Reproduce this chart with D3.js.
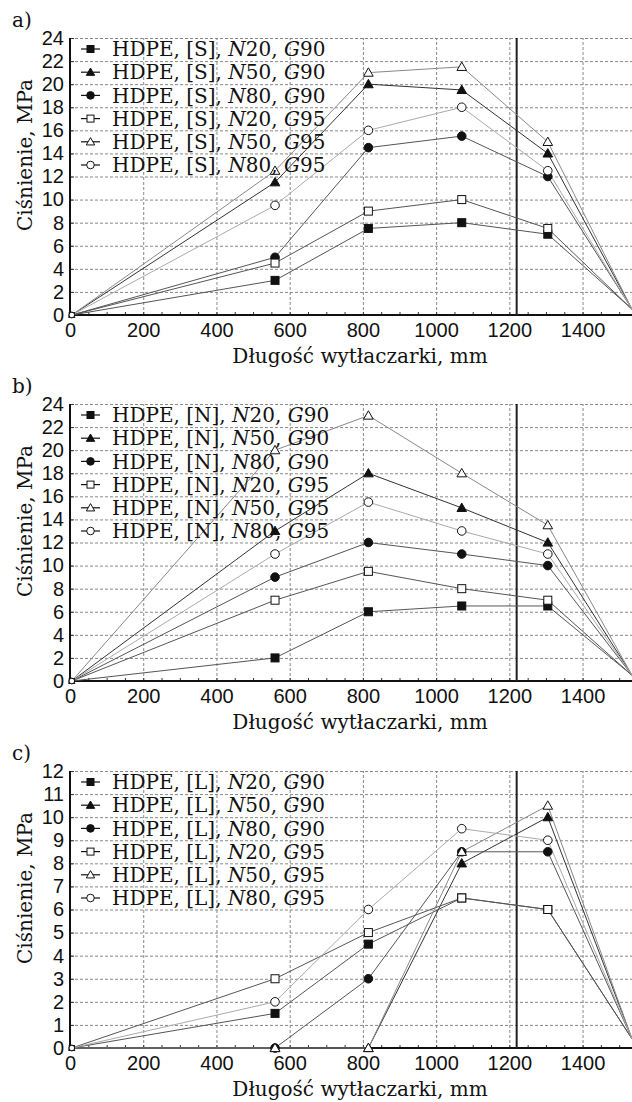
<!DOCTYPE html>
<html>
<head>
<meta charset="utf-8">
<script src="https://cdn.jsdelivr.net/npm/d3@7"></script>
<style>
  body { margin: 0; background: #fff; }
  svg { display: block; font-family: "DejaVu Serif", "Liberation Serif", serif; }
</style>
</head>
<body>
<div id="chart"></div>
<script>
// DATA
// measurement positions along the extruder, mm
const positions = [5, 560, 815, 1070, 1305, 1535];

// series: rotational speed N and G value
const nValues = ["20", "50", "80", "20", "50", "80"];
const gValues = ["90", "90", "90", "95", "95", "95"];

// pressure, MPa (one row per series, same order as above)
const pressureS = [
    [0, 3, 7.5, 8, 7, 0.5],
    [0, 11.5, 20, 19.5, 14, 0.5],
    [0, 5, 14.5, 15.5, 12, 0.5],
    [0, 4.5, 9, 10, 7.5, 0.5],
    [0, 12.5, 21, 21.5, 15, 0.5],
    [0, 9.5, 16, 18, 12.5, 0.5]
];
const pressureN = [
    [0, 2, 6, 6.5, 6.5, 0.5],
    [0, 13, 18, 15, 12, 0.5],
    [0, 9, 12, 11, 10, 0.5],
    [0, 7, 9.5, 8, 7, 0.5],
    [0, 20, 23, 18, 13.5, 0.5],
    [0, 11, 15.5, 13, 11, 0.5]
];
const pressureL = [
    [0, 1.5, 4.5, 6.5, 6, 0.4],
    [0, 0, 0, 8, 10, 0.4],
    [0, 0, 3, 8.5, 8.5, 0.4],
    [0, 3, 5, 6.5, 6, 0.4],
    [0, 0, 0, 8.5, 10.5, 0.4],
    [0, 2, 6, 9.5, 9, 0.4]
];

const xTicks = [0, 200, 400, 600, 800, 1000, 1200, 1400];
const yTicks24 = d3.range(0, 25, 2);
const yTicks12 = d3.range(0, 13, 1);
const markerLine = 1220;

const panels = [
    {label: "a)", die: "S", values: pressureS, yMax: 24, ticks: yTicks24},
    {label: "b)", die: "N", values: pressureN, yMax: 24, ticks: yTicks24},
    {label: "c)", die: "L", values: pressureL, yMax: 12, ticks: yTicks12}
];

// STYLE
const width = 632;
const height = 1102;
const left = 70;
const plotH = 277;
const tops = [38, 404, 771];
const fontSize = 20;

const shapes = ["square", "triangle", "circle", "square", "triangle", "circle"];
const filled = [true, true, true, false, false, false];
const lineColors = ["#555", "#333", "#555", "#555", "#888", "#aaa"];

const svg = d3.select("#chart")
    .append("svg")
        .attr("width", width)
        .attr("height", height)
        .attr("font-size", fontSize);

const x = d3.scaleLinear()
    .domain([0, 1535])
    .range([left, width]);

// draw one marker shape centred on cx, cy
function drawMarker(g, shape, isFilled, cx, cy, s) {
    const fill = isFilled ? "#111" : "#fff";
    let m;
    if (shape == "square") {
        m = g.append("rect")
            .attr("x", cx - s / 2).attr("y", cy - s / 2)
            .attr("width", s).attr("height", s);
    } else if (shape == "circle") {
        m = g.append("circle")
            .attr("cx", cx).attr("cy", cy).attr("r", s / 2 + 0.3);
    } else {
        m = g.append("path")
            .attr("d", `M${cx},${cy - s * 0.6}L${cx + s * 0.6},${cy + s * 0.45}L${cx - s * 0.6},${cy + s * 0.45}Z`);
    }
    m.attr("fill", fill).attr("stroke", "#111").attr("stroke-width", 1);
}

panels.forEach((p, pi) => {
    const top = tops[pi];
    const bottom = top + plotH;
    const g = svg.append("g");

    const y = d3.scaleLinear()
        .domain([0, p.yMax])
        .range([bottom, top]);

    // grid
    g.append("g")
        .attr("transform", `translate(0,${bottom})`)
        .call(d3.axisBottom(x).tickValues(xTicks.slice(1)).tickSize(-plotH).tickFormat(""))
        .call(a => a.select(".domain").remove())
        .call(a => a.selectAll("line").attr("stroke", "#888").attr("stroke-dasharray", "3,2"));
    g.append("g")
        .attr("transform", `translate(${left},0)`)
        .call(d3.axisLeft(y).tickValues(p.ticks.slice(1)).tickSize(-(width - left)).tickFormat(""))
        .call(a => a.select(".domain").remove())
        .call(a => a.selectAll("line").attr("stroke", "#888").attr("stroke-dasharray", "3,2"));

    // minor ticks on axes
    g.append("g")
        .attr("transform", `translate(0,${bottom})`)
        .call(d3.axisBottom(x).tickValues(d3.range(0, 1535, 50)).tickSize(-3).tickFormat(""))
        .call(a => a.select(".domain").remove())
        .call(a => a.selectAll("line").attr("stroke", "#333"));
    g.append("g")
        .attr("transform", `translate(${left},0)`)
        .call(d3.axisLeft(y).tickValues(p.ticks).tickSize(-4).tickFormat(""))
        .call(a => a.select(".domain").remove())
        .call(a => a.selectAll("line").attr("stroke", "#333"));

    // tick labels
    g.append("g")
        .attr("transform", `translate(0,${bottom})`)
        .call(d3.axisBottom(x).tickValues(xTicks).tickSize(0).tickPadding(8).tickFormat(d3.format("d")))
        .call(a => a.select(".domain").remove())
        .call(a => a.selectAll("text").attr("font-size", fontSize).attr("font-family", null).attr("fill", "#111"));
    g.append("g")
        .attr("transform", `translate(${left},0)`)
        .call(d3.axisLeft(y).tickValues(p.ticks).tickSize(0).tickPadding(6).tickFormat(d3.format("d")))
        .call(a => a.select(".domain").remove())
        .call(a => a.selectAll("text").attr("font-size", fontSize).attr("font-family", null).attr("fill", "#111"));

    // axis lines
    g.append("line")
        .attr("x1", left).attr("x2", left).attr("y1", top).attr("y2", bottom + 1)
        .attr("stroke", "#111").attr("stroke-width", 2);
    g.append("line")
        .attr("x1", left - 1).attr("x2", width).attr("y1", bottom).attr("y2", bottom)
        .attr("stroke", "#111").attr("stroke-width", 2);

    // vertical line
    g.append("line")
        .attr("x1", x(markerLine)).attr("x2", x(markerLine)).attr("y1", top).attr("y2", bottom)
        .attr("stroke", "#222").attr("stroke-width", 2);

    // series lines
    const line = d3.line()
        .x((d, i) => x(positions[i]))
        .y(d => y(d));
    p.values.forEach((vals, si) => {
        g.append("path")
            .attr("d", line(vals))
            .attr("fill", "none")
            .attr("stroke", lineColors[si])
            .attr("stroke-width", 1);
    });

    // markers
    p.values.forEach((vals, si) => {
        vals.forEach((v, i) => {
            if (i == vals.length - 1) return;
            drawMarker(g, shapes[si], filled[si], x(positions[i]), y(v), i == 0 ? 5 : 8);
        });
    });

    // legend
    const lg = g.append("g");
    nValues.forEach((n, si) => {
        const ly = top + 11 + si * 23.2;
        lg.append("line")
            .attr("x1", 81).attr("x2", 100).attr("y1", ly).attr("y2", ly)
            .attr("stroke", "#111").attr("stroke-width", 1.2);
        drawMarker(lg, shapes[si], filled[si], 90.5, ly, 7);
        const t = lg.append("text")
            .attr("x", 112).attr("y", ly).attr("dy", "0.36em")
            .attr("fill", "#111");
        t.append("tspan").text(`HDPE, [${p.die}], `);
        t.append("tspan").attr("font-style", "italic").text("N");
        t.append("tspan").text(`${n}, `);
        t.append("tspan").attr("font-style", "italic").text("G");
        t.append("tspan").text(gValues[si]);
    });

    // axis titles and panel label
    g.append("text")
        .attr("transform", `translate(32,${top + 117}) rotate(-90)`)
        .attr("text-anchor", "middle")
        .attr("fill", "#111")
        .text("Ciśnienie, MPa");
    g.append("text")
        .attr("x", 360).attr("y", bottom + 48)
        .attr("text-anchor", "middle")
        .attr("fill", "#111")
        .text("Długość wytłaczarki, mm");
    g.append("text")
        .attr("x", 12).attr("y", top - 11)
        .attr("fill", "#111")
        .text(p.label);
});
</script>
</body>
</html>
